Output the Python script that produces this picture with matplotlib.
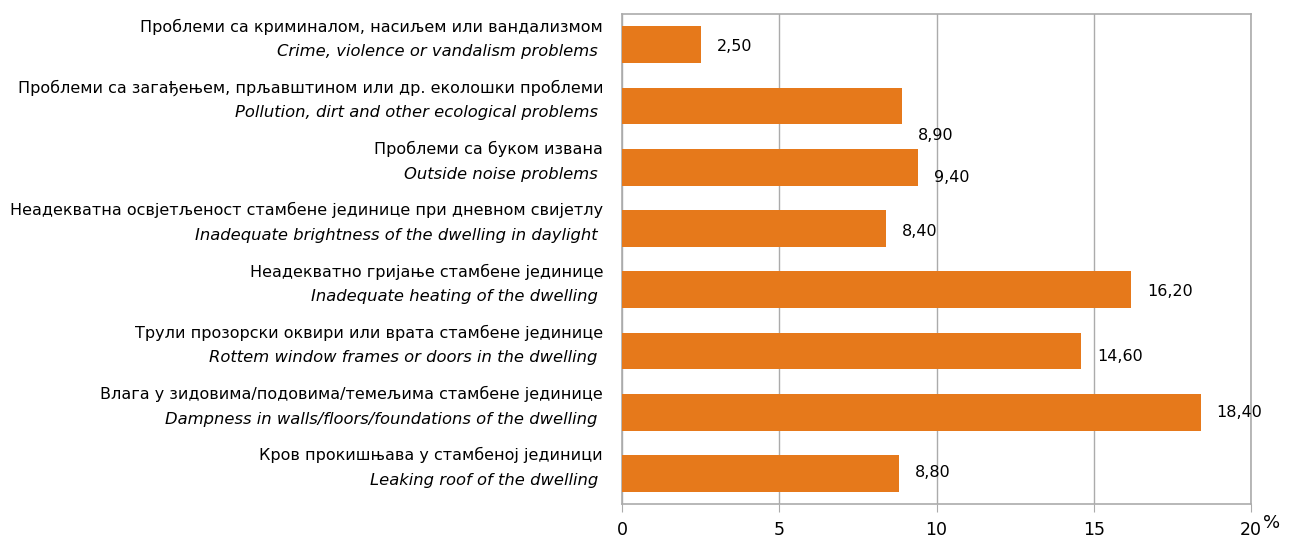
import matplotlib
matplotlib.use('Agg')
import matplotlib.pyplot as plt

# data, top to bottom as in the chart
labels_sr = [
    'Проблеми са криминалом, насиљем или вандализмом',
    'Проблеми са загађењем, прљавштином или др. еколошки проблеми',
    'Проблеми са буком извана',
    'Неадекватна освјетљеност стамбене јединице при дневном свијетлу',
    'Неадекватно гријање стамбене јединице',
    'Трули прозорски оквири или врата стамбене јединице',
    'Влага у зидовима/подовима/темељима стамбене јединице',
    'Кров прокишњава у стамбеној јединици',
]
labels_en = [
    'Crime, violence or vandalism problems',
    'Pollution, dirt and other ecological problems',
    'Outside noise problems',
    'Inadequate brightness of the dwelling in daylight',
    'Inadequate heating of the dwelling',
    'Rottem window frames or doors in the dwelling',
    'Dampness in walls/floors/foundations of the dwelling',
    'Leaking roof of the dwelling',
]
values = [2.5, 8.9, 9.4, 8.4, 16.2, 14.6, 18.4, 8.8]
xticks = [0, 5, 10, 15, 20]

# small vertical nudges (pixels) of value labels, as in the original
label_dy = [-2, -30, -10, -3, -2, -6, 0, 1]

bar_color = '#E6791B'
grid_color = '#ABABAB'

plt.rcParams['font.family'] = ['DejaVu Sans']

fig = plt.figure(figsize=(12.98, 5.41), dpi=100)
ax = fig.add_axes([622 / 1298, 1 - 504 / 541, 629 / 1298, 490 / 541])

n = len(values)
ypos = list(range(n))
ax.barh(ypos, values, height=0.6, color=bar_color, zorder=3)
ax.set_ylim(n - 0.5, -0.5)
ax.set_xlim(0, 20)
ax.set_xticks(xticks)
ax.set_xticklabels([str(t) for t in xticks], fontsize=12.5)
ax.set_yticks([])
ax.grid(axis='x', color=grid_color, linewidth=1, zorder=0)

for side in ['top', 'left', 'bottom', 'right']:
    ax.spines[side].set_color(grid_color)
    ax.spines[side].set_linewidth(1.2)
ax.tick_params(axis='x', length=6, color=grid_color, pad=6.5)

for i, v in enumerate(values):
    ax.annotate(f'{v:.2f}'.replace('.', ','), xy=(v, i), xytext=(16, label_dy[i]),
                textcoords='offset pixels', ha='left', va='center', fontsize=11.5)
    ax.annotate(labels_sr[i], xy=(0, i), xycoords=('axes fraction', 'data'),
                xytext=(-19, 18), textcoords='offset pixels',
                ha='right', va='center', fontsize=11.5)
    ax.annotate(labels_en[i] + ' ', xy=(0, i), xycoords=('axes fraction', 'data'),
                xytext=(-19, -7), textcoords='offset pixels',
                ha='right', va='center', fontsize=11.8, style='italic')

ax.annotate('%', xy=(1, 0), xycoords='axes fraction', xytext=(12, -19),
            textcoords='offset pixels', ha='left', va='center', fontsize=13)

fig.savefig('out.png', dpi=100, facecolor='white')
